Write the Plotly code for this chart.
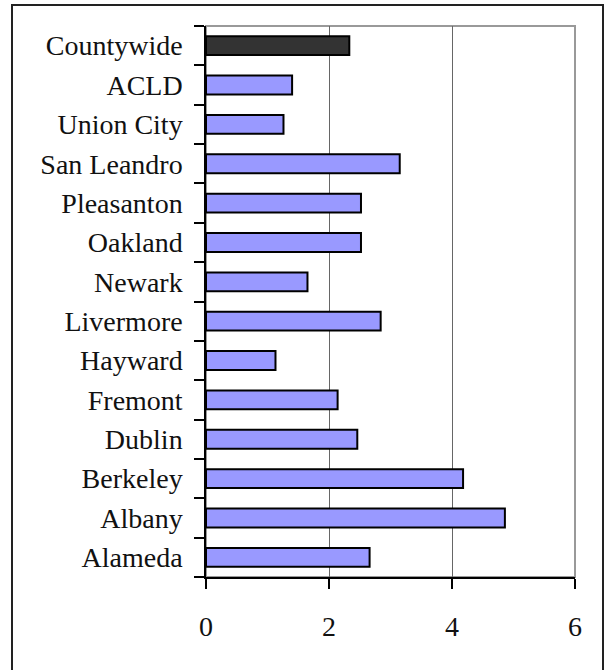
import plotly.graph_objects as go

categories = ["Alameda", "Albany", "Berkeley", "Dublin", "Fremont", "Hayward",
              "Livermore", "Newark", "Oakland", "Pleasanton", "San Leandro",
              "Union City", "ACLD", "Countywide"]
values = [2.66, 4.86, 4.18, 2.46, 2.14, 1.13, 2.84, 1.65, 2.52, 2.52, 3.15,
          1.26, 1.40, 2.33]
x_ticks = [0, 2, 4, 6]

highlight = "Countywide"
colors = ["#333333" if c == highlight else "#9999FF" for c in categories]

W, H = 604, 670
L, R, T, B = 206, 29, 26, 93
pw, ph = W - L - R, H - T - B

fig = go.Figure(go.Bar(
    y=categories, x=values, orientation="h",
    marker=dict(color=colors, line=dict(color="black", width=2)),
    width=0.48,
))

font = dict(family="Liberation Serif, Times New Roman, serif", size=28, color="#111111")

fig.update_layout(
    width=W, height=H,
    margin=dict(l=L, r=R, t=T, b=B, pad=0),
    paper_bgcolor="white", plot_bgcolor="white",
    showlegend=False,
    font=font,
    xaxis=dict(range=[0, 6], tickvals=x_ticks, ticktext=[str(v) for v in x_ticks],
               showgrid=True, gridcolor="#666666", gridwidth=1,
               showline=True, linecolor="black", linewidth=1.5,
               ticks="outside", ticklen=10, tickcolor="black", tickwidth=1.5,
               ticklabelstandoff=14, zeroline=False, tickfont=font),
    yaxis=dict(categoryorder="array", categoryarray=categories,
               showline=True, linecolor="black", linewidth=1.5,
               ticks="outside", ticklen=10, tickcolor="black", tickwidth=1.5,
               tickson="boundaries", showgrid=False, ticklabelstandoff=16,
               tickfont=font),
    shapes=[
        # plot area border (top/right grey)
        dict(type="rect", xref="x domain", yref="y domain", x0=0, x1=1, y0=0, y1=1,
             line=dict(color="#999999", width=2), layer="below"),
        # outer chart frame
        dict(type="rect", xref="paper", yref="paper",
             x0=(12 - L) / pw, x1=(603 - L) / pw,
             y0=-(H + 5 - (T + ph)) / ph, y1=1 + (T - 5) / ph,
             line=dict(color="#222222", width=2), fillcolor="rgba(0,0,0,0)", layer="below"),
    ],
)

fig.write_html("out.html", config={"displayModeBar": False},
               post_script="document.body.style.margin='0';document.body.style.overflow='hidden';")
